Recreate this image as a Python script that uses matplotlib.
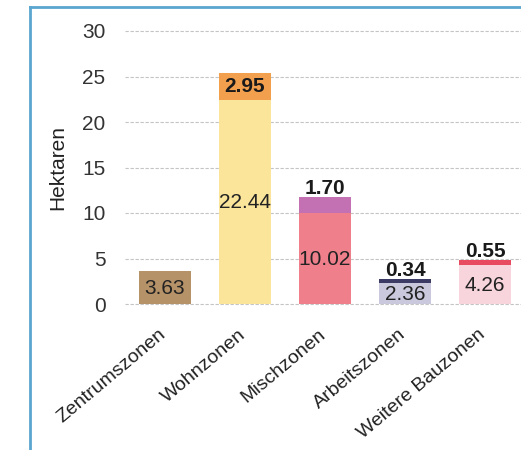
import matplotlib
matplotlib.use("Agg")
import matplotlib.pyplot as plt
from matplotlib.lines import Line2D
import matplotlib.transforms as mtransforms

categories = ["Zentrumszonen", "Wohnzonen", "Mischzonen", "Arbeitszonen", "Weitere Bauzonen"]
base_values = [3.63, 22.44, 10.02, 2.36, 4.26]
top_values = [0.0, 2.95, 1.70, 0.34, 0.55]
base_labels = ["3.63", "22.44", "10.02", "2.36", "4.26"]
top_labels = ["", "2.95", "1.70", "0.34", "0.55"]
yticks = [0, 5, 10, 15, 20, 25, 30]

base_colors = ["#b69269", "#fbe59b", "#f07f8c", "#c9c8dc", "#f8d4dc"]
top_colors = ["#b69269", "#f3a04e", "#c471b3", "#3b3b66", "#e84a60"]

plt.rcParams['font.family'] = ['Liberation Sans', 'DejaVu Sans']

fig = plt.figure(figsize=(5.21, 4.5), dpi=100)
ax = fig.add_axes([125/521, 146/450, 1 - 125/521, 273/450])

x = list(range(len(categories)))
ax.bar(x, base_values, width=0.64, color=base_colors, zorder=2)
ax.bar(x, top_values, width=0.64, bottom=base_values, color=top_colors, zorder=2)

for i in x:
    ax.text(i, base_values[i] / 2 - 0.1, base_labels[i], ha="center", va="center",
            fontsize=15, color="#222222", zorder=3)
    if top_labels[i]:
        total = base_values[i] + top_values[i]
        if i == 1:
            ax.text(i, base_values[i] + top_values[i] / 2, top_labels[i], ha="center",
                    va="center", fontsize=15, fontweight="bold", color="#1a1a1a", zorder=3)
        else:
            ax.text(i, total + 0.4, top_labels[i], ha="center", va="baseline",
                    fontsize=15, fontweight="bold", color="#1a1a1a", zorder=3)

ax.set_ylim(0, 30)
ax.set_xlim(-0.5, 4.45)
ax.set_yticks(yticks)
ax.set_yticklabels([str(v) for v in yticks], fontsize=15, color="#333333")
ax.tick_params(axis="y", length=0, pad=14)
ax.tick_params(axis="x", length=0, pad=23)
ax.set_xticks(x)
ax.set_xticklabels(categories, rotation=40, ha="right", va="baseline",
                   rotation_mode="anchor", fontsize=14, color="#222222")
offset = mtransforms.ScaledTranslation(1/100, 0, fig.dpi_scale_trans)
for lbl in ax.get_xticklabels():
    lbl.set_transform(lbl.get_transform() + offset)

for v in yticks:
    ax.axhline(v, color="#c4c4c4", lw=0.8, ls=(0, (3, 1.5)), zorder=1, clip_on=False)

for s in ax.spines.values():
    s.set_visible(False)

ax.set_ylabel("Hektaren", fontsize=15, color="#222222")
ax.yaxis.set_label_coords(-(125 - 67) / 396, 0.5)

# blue frame
fig.add_artist(Line2D([30/521, 30/521], [0, 1 - 7/450], color="#5aa6d0", lw=2,
                      transform=fig.transFigure))
fig.add_artist(Line2D([30/521, 1], [1 - 7/450, 1 - 7/450], color="#5aa6d0", lw=2,
                      transform=fig.transFigure))

fig.savefig("out.png", dpi=100)
